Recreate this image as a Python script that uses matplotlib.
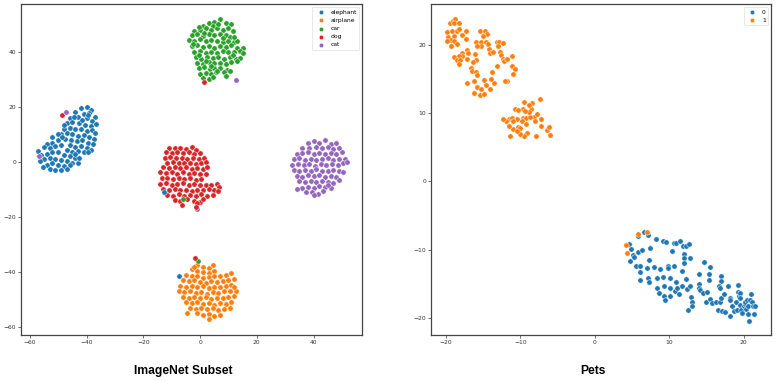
import matplotlib
matplotlib.use("Agg")
import matplotlib.pyplot as plt
import numpy as np

# ---------------- ImageNet Subset (t-SNE) ----------------
classes_in = ["elephant", "airplane", "car", "dog", "cat"]
colors_in = ["#1f77b4", "#ff7f0e", "#2ca02c", "#d62728", "#9467bd"]

car_pts = [
    (3,50.5),(5,51),(7,52),(9,50.5),(4.5,49.5),(11,50),(1,49.5),
    (-2,47.5),(0,48),(2,48.5),(4,47.8),(6,48.5),(8,48),(10,48.5),(11.5,47.5),(-0.5,49),
    (-3,46),(-1,46.5),(1,45.8),(3,46.3),(5,46),(7,46.5),(9,46),(10.5,45.5),
    (-4,44.3),(-2,44),(0,44.5),(2,43.8),(4,44.2),(6,44),(8,43.6),(10,44),(12,43.5),(13,44),
    (-3,42),(-1,42.5),(1,41.8),(3,42.2),(5,41.5),(7,42),(9,41.8),(11,42.3),(13,41.5),(15,41.5),
    (-2,40),(0,40.3),(2,39.6),(4,40),(6,39.5),(8,40.2),(10,39.8),(12,40),(14,40.3),(15.2,39.5),
    (-1.5,38),(0.5,37.5),(2.5,38.2),(4.5,37.8),(6.5,38),(8.5,37.5),(10.5,38),(12.5,37.5),(14,37.8),
    (-1,36),(1,35.6),(3,36.2),(5,35.8),(7,36),(9,35.5),(11,36.3),(13,36.5),
    (-0.5,34),(1.5,34.5),(3.5,33.8),(5,34.3),(7,34),(9.5,33.5),
    (0,32),(2,32.3),(4,31.8),(5.5,32.5),(8.5,32.5),(10.5,33),
    (1,30.5),(3,30),(4.5,30.8),(9,31.3),
    (1.5,47),(6.5,50),(8,45),(2,36.8),(11.5,39),(4,35),(-2.5,43),(12,45.5),(-0.5,38.8),(6,33),
]

elephant_pts = [
    (-42,19.5),(-40,19.8),(-38.5,19),(-44,18),(-41,17.5),(-39,17.8),(-37,16.5),(-46,16),
    (-43,16.3),(-40,15.8),(-38,15),(-47,14),(-45,14.5),(-42.5,14),(-40.5,13.5),(-38.5,13.2),
    (-36.8,13.8),(-48,12),(-46,12.5),(-44,12),(-42,11.8),(-40,11.3),(-38,11.6),(-37,10.5),
    (-49,10.2),(-47,10.5),(-45,10),(-43,9.5),(-41,9.8),(-39,9.2),(-37.5,8.5),(-47.5,8.3),
    (-45.5,7.8),(-43.5,7.5),(-41.5,7.8),(-39.5,7),(-37.8,6.5),(-46,6),(-44,5.5),(-42,5.8),
    (-40,5),(-38.5,4.3),(-41,3.8),(-39.5,3.5),(-43,4),(-48,13.5),(-44.5,16.5),(-41.5,15.3),
    (-39.5,17),
    (-50,8),(-52,7),(-54,6.5),(-55,5.5),(-53,5),(-51,5.8),(-49,6.2),(-47,4.5),(-45,3.5),
    (-57,4),(-56,2.5),(-54,3),(-52,3.5),(-50,3.8),(-48,2.5),(-46,2),(-44,1.5),(-55,1),
    (-53,1.5),(-51,1.2),(-49,0.8),(-47,0.2),(-45,-0.3),(-43,-0.5),(-54,-1),(-52,-0.5),
    (-50,-1),(-48,-1.5),(-46,-1.2),(-53,-2.5),(-51,-2.8),(-49,-3),(-47,-2.5),(-55.5,-1.8),
    (-50,10),(-52,9),(-48.5,9),(-44,2.8),(-42.5,1.5),(-56.5,0.2),
]

dog_pts = [
    (-11,5),(-9,5.2),(-7,5),(-5,4.8),(-3,5.3),(-1.5,4.5),(-12,3.5),(-10,3.3),(-8,3.6),
    (-6,3.2),(-4,3.5),(-2,3),(0,3.2),(-12.5,1.5),(-10.5,1.8),(-8.5,1.3),(-6.5,1.6),
    (-4.5,1.2),(-2.5,1.5),(-0.5,1),(1.5,1.5),(-11.5,-0.2),(-9.5,0),(-7.5,-0.5),(-5.5,-0.2),
    (-3.5,-0.3),(-1.5,-0.6),(0.5,-0.3),(2,0),(-13,-2),(-11,-2.2),(-9,-1.8),(-7,-2.3),
    (-5,-2),(-3,-2.5),(-1,-2.2),(1,-2.5),(2.5,-2),(-14,-3.8),(-12,-4),(-10,-3.6),(-8,-4.2),
    (-6,-3.8),(-4,-4.3),(-2,-4),(0,-4.5),(2,-4.2),(-13.5,-6),(-11.5,-5.8),(-9.5,-6.2),
    (-7.5,-5.7),(-5.5,-6.3),(-3.5,-6),(-1.5,-6.5),(0.5,-6.2),(-14,-8),(-12,-7.8),(-10,-8.3),
    (-8,-8),(-6,-7.8),(-4,-8.4),(-2,-8),(0,-8.5),(2,-8.2),(4,-8.5),(6,-8),(6.8,-9),
    (-13,-9.8),(-11,-10.2),(-9,-9.8),(-7,-10.3),(-5,-10),(-3,-10.4),(-1,-10),(1,-10.2),
    (3,-9.8),(5,-10.3),(6.5,-10.5),(-11.5,-12),(-9.5,-12.2),(-7.5,-11.8),(-5.5,-12.3),
    (-3.5,-12),(-1.5,-12.2),(0.5,-11.8),(2.5,-12.3),(4.5,-12),(-9,-13.8),(-7,-14),
    (-4.5,-13.6),(-2,-14),(0,-14.5),(1,-13.3),(-1,-15),
]

cat_pts = [
    (38,6.8),(40,7.5),(42,7),(44,7.8),(46,6.5),(48,6.8),(36,5),(38.5,5.2),(41,5.5),(43,5),
    (45,5.3),(47,4.8),(49,5),(34,3),(36,3.2),(38,3.5),(40,3),(42,3.3),(44,2.8),(46,3.2),
    (48,3),(50,3.5),(33,1),(35,1.3),(37,0.8),(39,1.2),(41,0.7),(43,1),(45,1.3),(47,0.8),
    (49,1.2),(51,1),(32.5,-1),(34.5,-0.7),(36.5,-1.2),(38.5,-0.8),(40.5,-1.3),(42.5,-0.9),
    (44.5,-1.2),(46.5,-0.7),(48.5,-1),(50.5,-0.5),(51.7,0),(33,-3),(35,-3.3),(37,-2.8),
    (39,-3.2),(41,-2.7),(43,-3.1),(45,-3.4),(47,-2.9),(49,-3.2),(50.5,-3.8),(34,-5),
    (36,-5.3),(38,-4.8),(40,-5.2),(42,-4.8),(44,-5.3),(46,-5),(48,-5.5),(35,-7),(37,-7.2),
    (39,-6.8),(41,-7.3),(43,-7),(45,-7.3),(47,-7.5),(49,-6.5),(36,-9.5),(38,-9),(40,-9.3),
    (42,-8.8),(44,-9.2),(46,-9.5),(37.5,-11),(39.5,-10.8),(41.5,-11.5),(43.5,-10.5),
    (40,-12),(45,-8.3),(34,-9.8),
]

airplane_pts = [
    (-1,-37.5),(1,-38),(3,-38.5),(-3,-39),(-1,-39.5),(1,-40),(3,-40.2),(5,-39.5),(-5,-41),
    (-3,-41.3),(-1,-41.5),(1,-42),(3,-41.8),(5,-41.3),(7,-41.5),(9,-41),(11,-40.5),(-6,-43),
    (-4,-43.3),(-2,-43),(0,-43.5),(2,-43.8),(4,-43.2),(6,-43.5),(8,-43.2),(10,-43),(12,-42.5),
    (-7,-45),(-5,-45.3),(-3,-45),(-1,-45.5),(1,-45.2),(3,-45.8),(5,-45.3),(7,-45.5),(9,-45),
    (11,-44.8),(-7.5,-47),(-5.5,-47.3),(-3.5,-47),(-1.5,-47.5),(0.5,-47.2),(2.5,-47.8),
    (4.5,-47.3),(6.5,-47.5),(8.5,-47),(10.5,-46.8),(12.5,-47),(-6,-49),(-4,-49.3),(-2,-49),
    (0,-49.5),(2,-49.2),(4,-49.8),(6,-49.3),(8,-49.5),(10,-49),(12,-48.8),(-5,-51),(-3,-51.3),
    (-1,-51),(1,-51.5),(3,-51.2),(5,-51.8),(7,-51.3),(9,-51.5),(11,-51),(-3.5,-53),
    (-1.5,-53.3),(0.5,-53),(2.5,-53.5),(4.5,-53.2),(6.5,-53.8),(8.5,-53.3),(10.5,-53),
    (-1,-55),(1,-55.5),(3,-55.2),(5,-55.8),(7,-55.5),(3,-57.2),(-2,-38),(4.5,-37.5),
    (12,-45.5),(-4.5,-55),
]

# stray points lying inside other clusters: (class, x, y)
strays_in = [
    ("dog", 1.5, 29.0), ("cat", 12.7, 29.9),
    ("dog", -48.8, 17.0), ("cat", -47.3, 18.3), ("cat", -56.8, 2.2),
    ("elephant", -12.8, -11.0), ("car", -5.9, -13.3), ("dog", -6.5, -15.8),
    ("cat", -1.0, -16.9), ("dog", -1.3, -16.3),
    ("elephant", -7.4, -41.5), ("car", -0.6, -35.9), ("dog", -1.8, -34.8),
]

# ---------------- Pets (t-SNE) ----------------
classes_pets = ["0", "1"]
colors_pets = ["#1f77b4", "#ff7f0e"]

pets1_pts = [
    (-19.42,23.31),(-19.1,23.6),(-18.75,23.8),(-18.88,23.2),(-18.3,23.2),(-19.9,21.9),
    (-19.2,22.1),(-18.57,22.1),(-18.26,22.4),(-19.7,21.25),(-18.9,21.35),(-19.3,20.8),
    (-19.9,20.6),(-18.9,20.6),(-18.6,20.2),(-19.4,19.9),(-17.85,21.45),(-17.3,22.0),
    (-17.3,20.9),(-15.5,22.1),(-14.8,22.1),(-14.5,21.7),(-15.0,21.35),(-16.0,20.5),
    (-15.35,20.5),(-14.7,20.4),(-14.4,20.1),(-14.3,19.5),(-15.3,19.9),(-15.9,19.8),
    (-17.2,19.3),(-17.0,18.9),(-17.9,18.9),(-17.9,18.4),(-18.3,18.4),(-19.0,18.3),
    (-18.6,17.8),(-18.1,17.8),(-17.2,18.0),(-18.3,17.3),(-16.15,18.7),(-16.0,17.8),
    (-16.4,17.5),(-16.7,16.65),(-16.55,16.2),(-16.0,16.1),(-15.85,15.6),(-16.3,14.8),
    (-15.8,13.9),(-17.2,14.4),(-14.9,14.9),(-14.6,14.2),(-15.35,13.5),(-16.2,13.0),
    (-15.5,12.7),(-14.9,12.9),(-14.1,13.5),(-13.55,14.5),(-13.8,16.0),(-13.95,15.1),
    (-13.1,17.0),(-13.2,20.4),(-12.85,20.4),(-12.3,20.3),(-13.05,19.8),(-12.75,19.0),
    (-12.6,18.6),(-12.4,18.0),(-12.2,17.6),(-11.8,17.9),(-11.15,18.4),(-11.15,17.0),
    (-10.75,16.55),(-11.05,15.7),(-11.85,14.8),(-12.1,14.7),(-14.1,18.8),(-13.7,19.0),
    (-9.53,11.65),(-8.5,11.55),(-7.4,12.1),(-8.55,10.7),(-8.9,11.2),(-9.6,10.7),
    (-10.7,10.6),(-10.4,10.5),(-11.6,9.1),(-11.15,9.3),(-12.0,8.8),(-10.5,9.1),
    (-10.95,8.8),(-9.6,9.3),(-9.2,9.3),(-9.8,8.9),(-10.3,8.0),(-10.95,7.7),(-10.0,7.9),
    (-11.6,8.1),(-9.2,8.4),(-8.2,9.5),(-7.75,9.9),(-7.2,9.2),(-7.2,8.2),(-8.1,8.8),
    (-8.7,9.4),(-9.1,7.15),(-9.5,6.7),(-10.0,6.9),(-10.5,7.35),(-11.4,6.7),(-7.9,6.6),
    (-6.5,7.5),(-6.2,8.0),(-6.0,6.85),(-8.8,10.2),(-9.35,10.4),(-12.3,9.1),
]

pets0_pts = [
    (4.52,-9.16),(5.77,-7.93),(4.79,-9.89),(5.06,-10.77),(5.32,-11.07),(4.70,-11.66),
    (5.55,-12.44),(6.04,-12.44),(6.13,-13.32),(6.13,-14.40),(5.77,-10.38),(6.31,-10.09),
    (6.58,-7.44),(7.20,-7.84),(7.38,-9.70),(7.29,-11.56),(7.02,-12.73),(7.20,-14.10),
    (7.29,-14.79),(8.01,-12.54),(8.19,-8.42),(8.37,-14.20),(8.37,-15.67),(8.64,-16.36),
    (8.81,-12.83),(9.17,-8.72),(9.62,-8.91),(9.17,-14.01),(9.26,-15.38),(9.26,-16.85),
    (9.44,-17.34),(9.89,-12.34),(9.89,-12.73),(10.07,-14.10),(10.07,-15.67),(10.16,-16.85),
    (10.43,-10.19),(10.60,-9.01),(10.96,-9.01),(10.60,-12.34),(10.78,-16.06),(10.96,-14.69),
    (11.05,-15.67),(11.32,-16.55),(11.50,-8.72),(11.68,-13.12),(11.68,-15.28),(11.86,-9.50),
    (11.95,-10.58),(12.04,-11.26),(12.04,-11.95),(12.21,-9.50),(12.21,-14.30),(12.39,-15.77),
    (12.57,-18.80),(12.66,-9.21),(12.75,-11.26),(12.93,-16.94),(13.02,-17.63),(13.02,-18.22),
    (12.75,-15.28),(14.00,-13.52),(14.00,-15.08),(14.00,-15.67),(14.18,-15.96),(14.54,-16.36),
    (14.72,-11.85),(14.90,-17.63),(15.08,-16.16),(15.35,-13.61),(15.35,-14.40),(15.44,-12.54),
    (15.53,-17.24),(15.70,-17.83),(16.33,-17.73),(16.60,-18.90),(16.87,-17.63),(16.96,-13.91),
    (16.96,-14.59),(16.96,-17.04),(16.69,-15.28),(16.78,-15.57),(17.14,-19.00),(17.49,-19.20),
    (17.40,-16.45),(17.94,-15.38),(18.12,-19.69),(18.12,-17.04),(18.21,-17.43),(18.39,-18.32),
    (18.66,-19.00),(18.93,-17.63),(19.11,-18.90),(19.19,-15.18),(19.28,-16.16),(19.37,-16.85),
    (19.55,-16.36),(19.55,-17.14),(19.55,-18.12),(19.64,-18.90),(19.73,-19.29),(20.00,-18.32),
    (20.18,-18.02),(20.18,-17.63),(20.27,-18.71),(20.45,-17.43),(20.54,-18.32),(20.63,-19.39),
    (20.72,-20.47),(20.81,-17.34),(20.98,-16.55),(21.16,-17.73),(21.25,-18.32),(21.34,-19.39),
    (21.52,-18.22),
]

strays_pets = [("1", 4.16, -9.3), ("1", 4.34, -10.5), ("1", 5.77, -7.64), ("1", 7.0, -7.44)]

# ---------------- drawing ----------------
plt.rcParams["font.family"] = ["DejaVu Sans"]
fig = plt.figure(figsize=(7.77, 3.81), dpi=100)
ax1 = fig.add_axes([0.027, 0.121, 0.439, 0.868])
ax2 = fig.add_axes([0.555, 0.121, 0.4375, 0.868])

MS = 15
LW = 0.35

def draw(ax, groups, colors, strays, classes):
    for name, pts, c in zip(classes, groups, colors):
        a = np.array(pts)
        ax.scatter(a[:, 0], a[:, 1], s=MS, c=c, edgecolors="white", linewidths=LW, label=name, zorder=2)
    cmap = dict(zip(classes, colors))
    for name, x, y in strays:
        ax.scatter([x], [y], s=MS, c=cmap[name], edgecolors="white", linewidths=LW, zorder=3)

draw(ax1, [elephant_pts, airplane_pts, car_pts, dog_pts, cat_pts], colors_in, strays_in, classes_in)
draw(ax2, [pets0_pts, pets1_pts], colors_pets, strays_pets, classes_pets)

ax1.set_xlim(-63.1, 57.1)
ax1.set_ylim(-62.8, 57.3)
ax1.set_xticks([-60, -40, -20, 0, 20, 40])
ax1.set_yticks([-60, -40, -20, 0, 20, 40])
ax2.set_xlim(-22.0, 23.7)
ax2.set_ylim(-22.5, 26.0)
ax2.set_xticks([-20, -10, 0, 10, 20])
ax2.set_yticks([-20, -10, 0, 10, 20])

for ax in (ax1, ax2):
    ax.tick_params(labelsize=4.3, length=2, width=0.5, pad=1.5, colors="#333333")
    for s in ax.spines.values():
        s.set_linewidth(0.9)
        s.set_color("#444444")
    leg = ax.legend(loc="upper right", fontsize=4.3, frameon=True, borderpad=0.4,
                    handletextpad=0.6, markerscale=0.85)
    leg.get_frame().set_linewidth(0.4)
    leg.get_frame().set_edgecolor("#cccccc")

fig.text(183 / 777, 1 - 371 / 381, "ImageNet Subset", ha="center", va="center",
         fontsize=8.7, fontweight="bold", family="Liberation Sans")
fig.text(593 / 777, 1 - 371 / 381, "Pets", ha="center", va="center",
         fontsize=8.7, fontweight="bold", family="Liberation Sans")

fig.savefig("out.png", dpi=100)
